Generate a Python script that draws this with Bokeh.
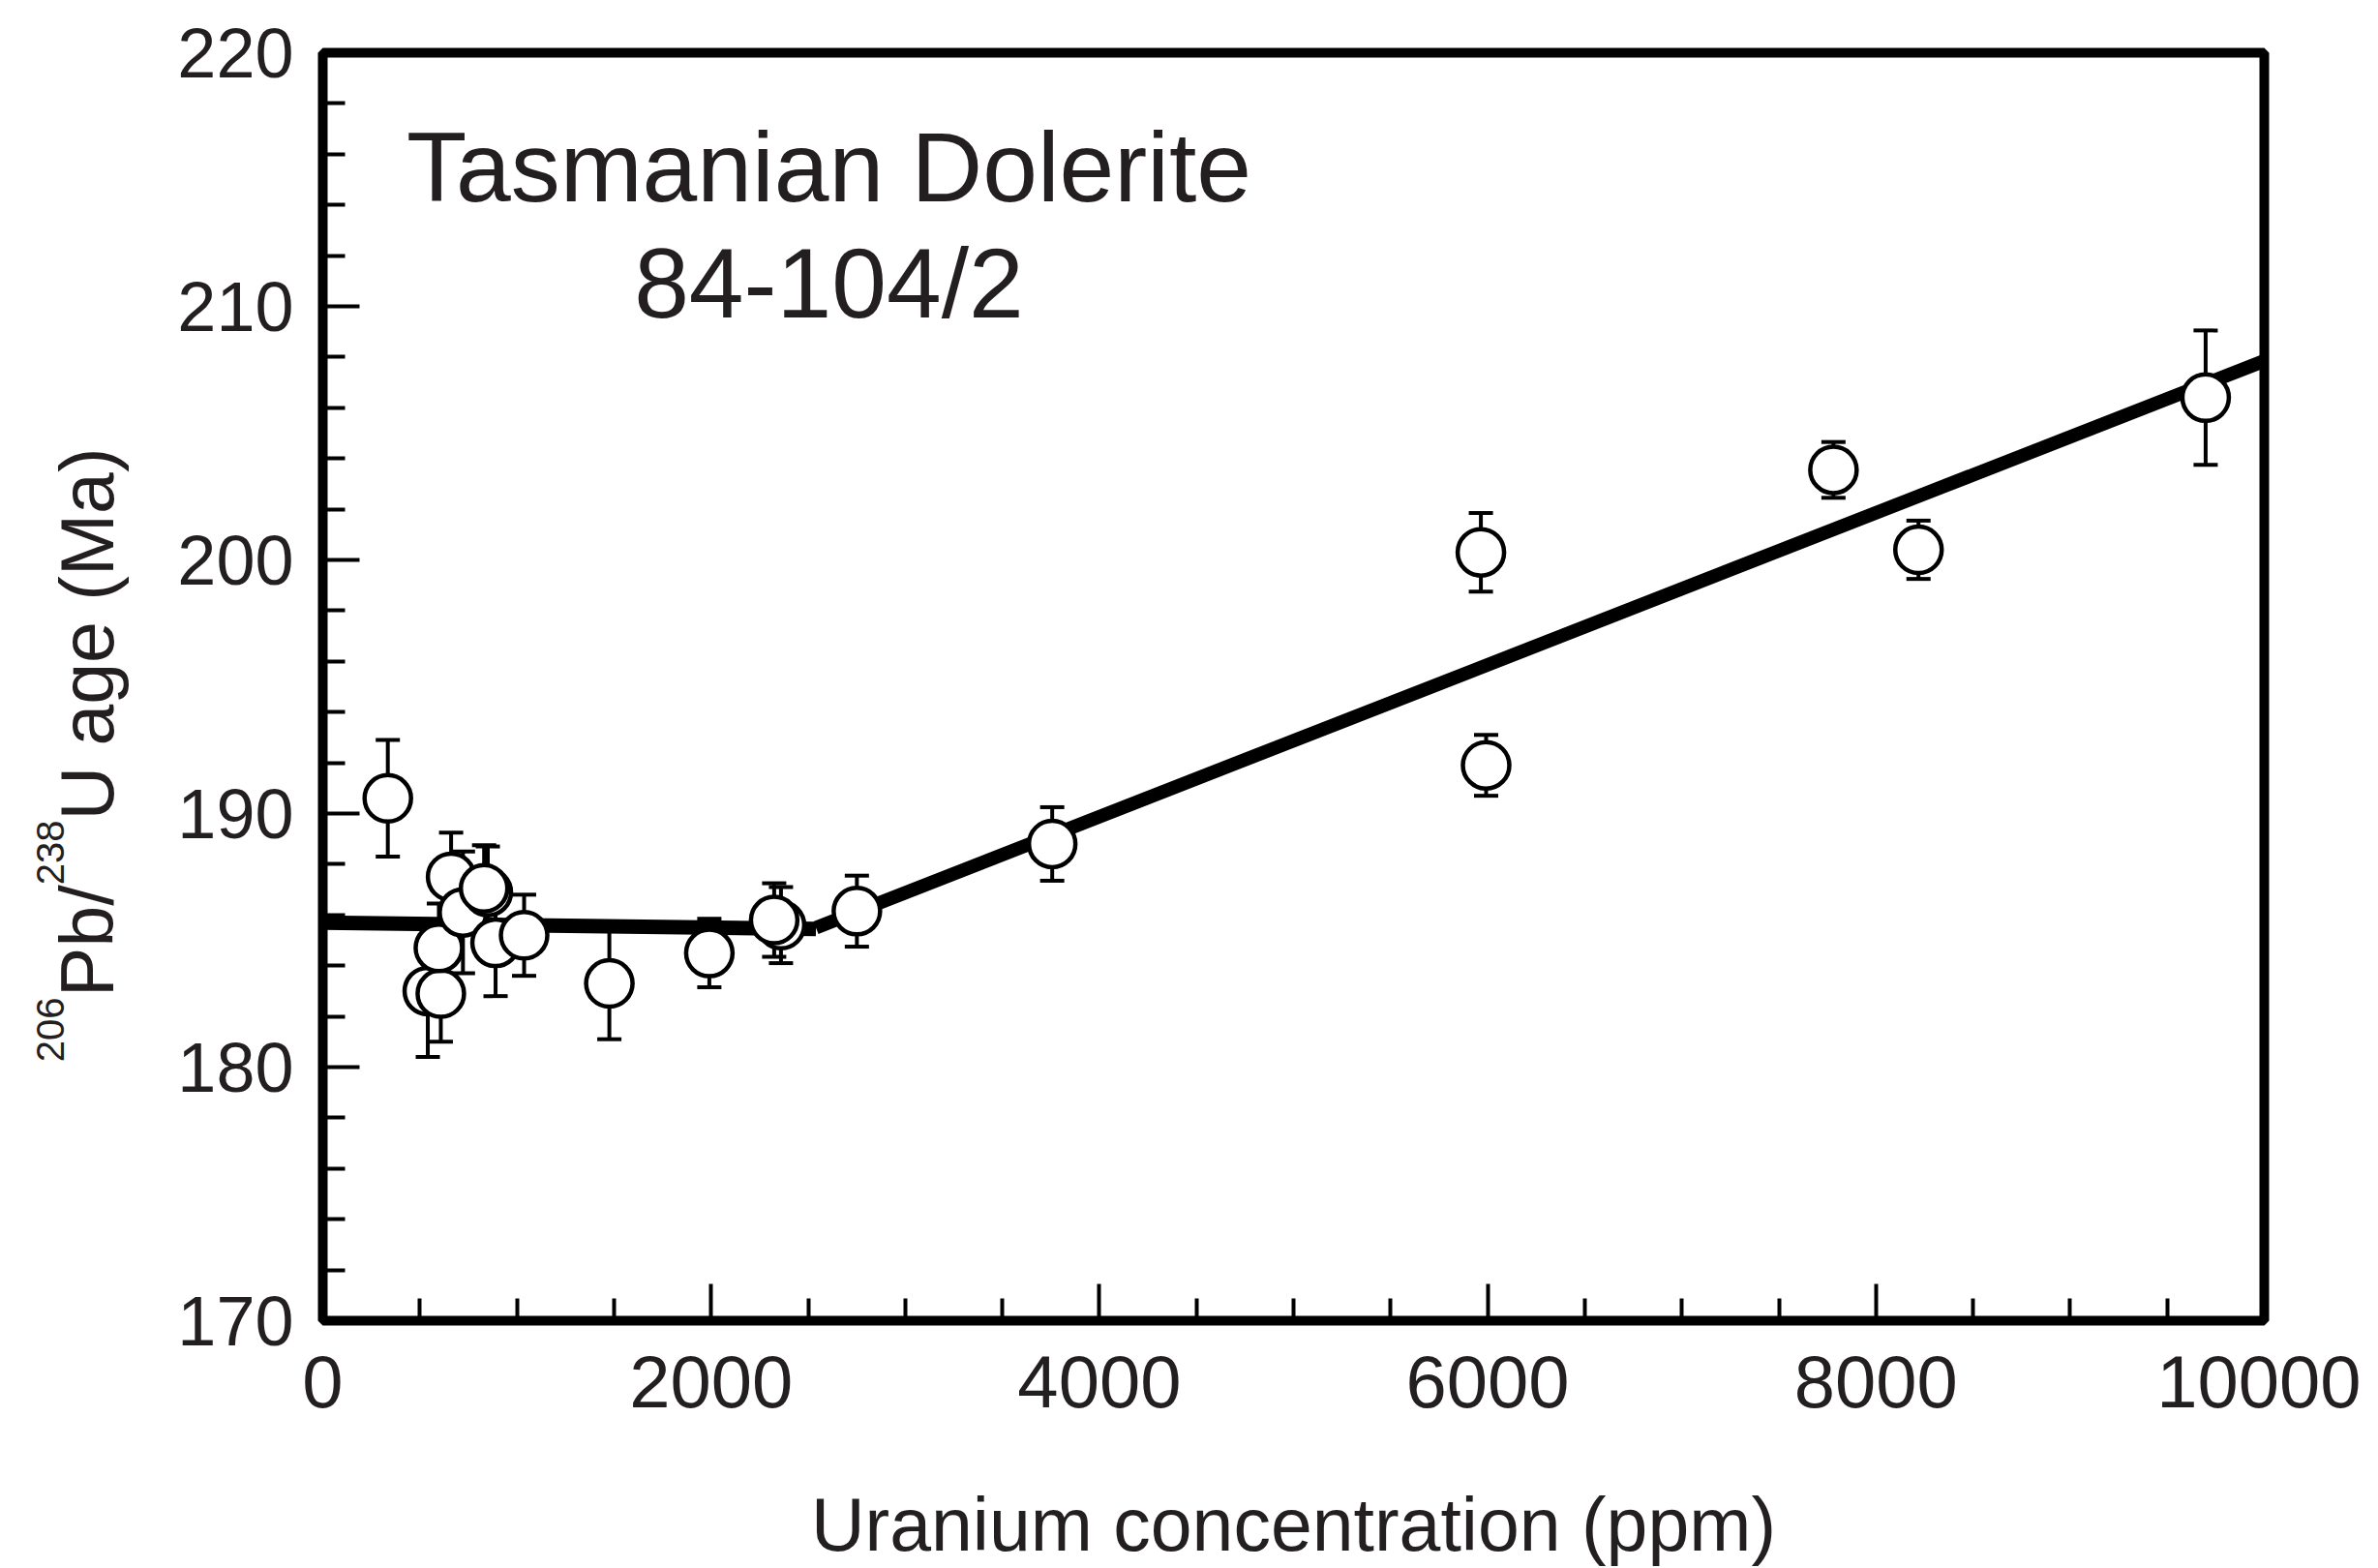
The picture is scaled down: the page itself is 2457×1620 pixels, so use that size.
from bokeh.plotting import figure
from bokeh.models import Range1d, FixedTicker, Label, ColumnDataSource, LinearAxis
from bokeh.embed import file_html
from bokeh.resources import INLINE
import math

# ---- data ----
uranium_ppm = [335, 541, 608, 598, 661, 722, 850, 831, 890, 1037, 1476, 1991,
               2360, 2325, 2751, 3757, 5965, 5992, 7781, 8219, 9698]
age_ma = [190.6, 183.0, 182.9, 184.7, 187.5, 186.1, 186.9, 187.05, 184.9, 185.2,
          183.3, 184.5, 185.6, 185.8, 186.15, 188.8, 200.3, 191.9, 203.55, 200.4, 206.4]
age_err = [2.3, 2.6, 1.9, 1.75, 1.75, 2.4, 1.8, 1.7, 2.1, 1.6, 2.2, 1.35,
           1.5, 1.45, 1.4, 1.45, 1.55, 1.2, 1.1, 1.15, 2.65]

fit_flat_x = [0, 2540]
fit_flat_y = [185.7, 185.45]
fit_slope_x = [2540, 10000]
fit_slope_y = [185.5, 207.85]

x_major = [0, 2000, 4000, 6000, 8000, 10000]
x_minor = [500, 1000, 1500, 2500, 3000, 3500, 4500, 5000, 5500,
           6500, 7000, 7500, 8500, 9000, 9500]
y_major = [170, 180, 190, 200, 210, 220]
y_minor = [172, 174, 176, 178, 182, 184, 186, 188, 192, 194, 196, 198,
           202, 204, 206, 208, 212, 214, 216, 218]

title_lines = ["Tasmanian Dolerite", "84-104/2"]
x_title = "Uranium concentration (ppm)"
# y title: main pieces and superscript pieces, keyed by where each piece ends (Ma)
y_title_main = {187.18: "Pb/", 204.43: "U age (Ma)"}
y_title_sup = {182.75: "206", 189.73: "238"}

TXT = "#231f20"
FONT = "Liberation Sans"

lower = [a - e for a, e in zip(age_ma, age_err)]
upper = [a + e for a, e in zip(age_ma, age_err)]
src = ColumnDataSource(dict(x=uranium_ppm, y=age_ma, lo=lower, hi=upper))

p = figure(frame_width=2006, frame_height=1310,
           x_range=Range1d(0, 10000), y_range=Range1d(170, 220),
           output_backend="svg", toolbar_location=None,
           min_border_left=333, min_border_right=100,
           min_border_top=54, min_border_bottom=230)
p.background_fill_color = "white"
p.border_fill_color = "white"
p.grid.visible = False
p.outline_line_color = "black"
p.outline_line_width = 10

p.xaxis.ticker = FixedTicker(ticks=x_major, minor_ticks=x_minor)
p.yaxis.ticker = FixedTicker(ticks=y_major, minor_ticks=y_minor)
for ax in (p.xaxis[0], p.yaxis[0]):
    ax.axis_line_color = None
    ax.major_tick_in = 38
    ax.major_tick_out = 0
    ax.minor_tick_in = 23
    ax.minor_tick_out = 0
    ax.major_tick_line_width = 4
    ax.minor_tick_line_width = 4
    ax.major_tick_line_color = "black"
    ax.minor_tick_line_color = "black"
    ax.major_label_text_font = FONT
    ax.major_label_text_color = TXT
p.xaxis.major_label_text_font_size = "76px"
p.yaxis.major_label_text_font_size = "72px"
p.yaxis.major_label_standoff = 30
p.xaxis.major_label_standoff = 36
p.xaxis.axis_label = x_title
p.xaxis.axis_label_text_font = FONT
p.xaxis.axis_label_text_font_size = "77px"
p.xaxis.axis_label_text_font_style = "normal"
p.xaxis.axis_label_text_color = TXT
p.xaxis.axis_label_standoff = 75


def title_axis(pieces, size, standoff):
    ax = LinearAxis(ticker=FixedTicker(ticks=list(pieces.keys()), minor_ticks=[]),
                    major_label_overrides=pieces,
                    major_label_orientation=math.pi / 2,
                    major_label_text_font=FONT,
                    major_label_text_font_size=size,
                    major_label_text_color=TXT,
                    major_label_standoff=standoff,
                    axis_line_color=None, major_tick_line_color=None,
                    minor_tick_line_color=None,
                    major_tick_in=0, major_tick_out=0,
                    minor_tick_in=0, minor_tick_out=0)
    p.add_layout(ax, "left")


title_axis(y_title_main, "77px", 90)
title_axis(y_title_sup, "40px", -51)

# fit lines
p.line(fit_flat_x, fit_flat_y, line_width=15, line_color="black", line_cap="butt")
p.line(fit_slope_x, fit_slope_y, line_width=14, line_color="black", line_cap="butt")

# error bars
p.segment(x0="x", y0="lo", x1="x", y1="hi", source=src, line_width=4, line_color="black")
p.scatter(x="x", y="lo", source=src, marker="dash", size=25, line_width=4,
          line_color="black")
p.scatter(x="x", y="hi", source=src, marker="dash", size=25, line_width=4,
          line_color="black")
# points
p.scatter(x="x", y="y", source=src, marker="circle", size=48, line_width=4.5,
          line_color="black", fill_color="white")

# title text
p.add_layout(Label(x=2607, y=215.48, text=title_lines[0], text_align="center",
                   text_baseline="alphabetic", text_font=FONT,
                   text_font_size="102px", text_color=TXT))
p.add_layout(Label(x=2607, y=210.88, text=title_lines[1], text_align="center",
                   text_baseline="alphabetic", text_font=FONT,
                   text_font_size="102px", text_color=TXT))

open("out.html", "w").write(file_html(p, INLINE))
